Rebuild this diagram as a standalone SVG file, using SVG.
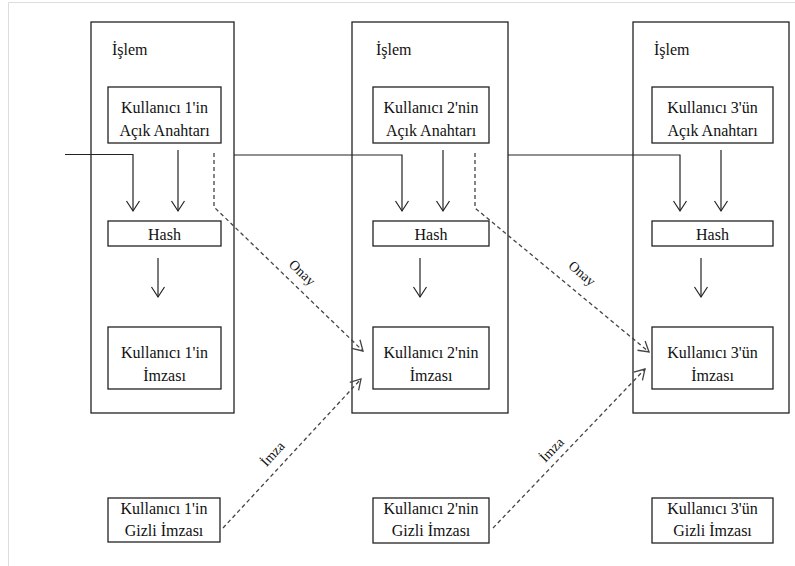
<svg xmlns="http://www.w3.org/2000/svg" width="795" height="566" viewBox="0 0 795 566" font-family="'Liberation Serif', 'Times New Roman', 'DejaVu Serif', serif">
<style>
text{font-family:'Liberation Serif','Times New Roman','DejaVu Serif',serif;font-size:16px;fill:#111}
.c{text-anchor:middle}
.box{fill:#fff;stroke:#222;stroke-width:1.3}
.outer{fill:none;stroke:#222;stroke-width:1.3}
.ln{fill:none;stroke:#222;stroke-width:1.2}
.dl{fill:none;stroke:#444;stroke-width:1.3;stroke-dasharray:4 3}
.lbl{font-size:14px;text-anchor:middle}
</style>
<defs>
<marker id="a" markerUnits="userSpaceOnUse" markerWidth="20" markerHeight="20" refX="0" refY="0" orient="auto" overflow="visible">
<path d="M-10,-6.5 L0,0 L-10,6.5" fill="none" stroke="#222" stroke-width="1.2"/>
</marker>
<marker id="ad" markerUnits="userSpaceOnUse" markerWidth="20" markerHeight="20" refX="0" refY="0" orient="auto" overflow="visible">
<path d="M-10,-6 L0,0 L-10,6" fill="none" stroke="#444" stroke-width="1.3"/>
</marker>
</defs>
<rect width="795" height="566" fill="#fff"/>
<path d="M8.5,566 V2.5 H795" fill="none" stroke="#ddd" stroke-width="1"/>

<g id="islem1">
<rect class="outer" x="91" y="22" width="143" height="391"/>
<text x="112" y="55">İşlem</text>
</g>
<g id="islem2">
<rect class="outer" x="352" y="22" width="156" height="391"/>
<text x="376" y="55">İşlem</text>
</g>
<g id="islem3">
<rect class="outer" x="633" y="22" width="156" height="391"/>
<text x="654" y="55">İşlem</text>
</g>

<g id="acik1">
<rect class="box" x="108" y="87" width="113" height="56"/>
<text class="c" x="164.5" y="113">Kullanıcı 1'in</text>
<text class="c" x="164.5" y="136">Açık Anahtarı</text>
</g>
<g id="acik2">
<rect class="box" x="373" y="87" width="116" height="56"/>
<text class="c" x="431" y="113">Kullanıcı 2'nin</text>
<text class="c" x="431" y="136">Açık Anahtarı</text>
</g>
<g id="acik3">
<rect class="box" x="652" y="87" width="121" height="56"/>
<text class="c" x="712.5" y="113">Kullanıcı 3'ün</text>
<text class="c" x="712.5" y="136">Açık Anahtarı</text>
</g>

<g id="hash1">
<rect class="box" x="108" y="221" width="113" height="25"/>
<text class="c" x="164.5" y="240">Hash</text>
</g>
<g id="hash2">
<rect class="box" x="373" y="221" width="116" height="25"/>
<text class="c" x="431" y="240">Hash</text>
</g>
<g id="hash3">
<rect class="box" x="652" y="221" width="121" height="25"/>
<text class="c" x="712.5" y="240">Hash</text>
</g>

<g id="imza1">
<rect class="box" x="108" y="327" width="113" height="62"/>
<text class="c" x="164.5" y="358">Kullanıcı 1'in</text>
<text class="c" x="164.5" y="381">İmzası</text>
</g>
<g id="imza2">
<rect class="box" x="373" y="327" width="116" height="62"/>
<text class="c" x="431" y="358">Kullanıcı 2'nin</text>
<text class="c" x="431" y="381">İmzası</text>
</g>
<g id="imza3">
<rect class="box" x="652" y="327" width="121" height="62"/>
<text class="c" x="712.5" y="358">Kullanıcı 3'ün</text>
<text class="c" x="712.5" y="381">İmzası</text>
</g>

<g id="gizli1">
<rect class="box" x="108" y="498" width="112" height="44"/>
<text class="c" x="164" y="514">Kullanıcı 1'in</text>
<text class="c" x="164" y="536">Gizli İmzası</text>
</g>
<g id="gizli2">
<rect class="box" x="373" y="498" width="116" height="45"/>
<text class="c" x="431" y="514">Kullanıcı 2'nin</text>
<text class="c" x="431" y="536">Gizli İmzası</text>
</g>
<g id="gizli3">
<rect class="box" x="652" y="498" width="121" height="45"/>
<text class="c" x="712.5" y="514">Kullanıcı 3'ün</text>
<text class="c" x="712.5" y="536">Gizli İmzası</text>
</g>

<g id="connectors">
<path class="ln" d="M65,154.5 H133 V211" marker-end="url(#a)"/>
<path class="ln" d="M178,150 V211" marker-end="url(#a)"/>
<path class="ln" d="M158,258 V297" marker-end="url(#a)"/>
<path class="ln" d="M234,155 H402 V211" marker-end="url(#a)"/>
<path class="ln" d="M443,150 V211" marker-end="url(#a)"/>
<path class="ln" d="M420,258 V297" marker-end="url(#a)"/>
<path class="ln" d="M508,155 H680 V211" marker-end="url(#a)"/>
<path class="ln" d="M721,150 V211" marker-end="url(#a)"/>
<path class="ln" d="M701,258 V297" marker-end="url(#a)"/>

<path class="dl" d="M214,153 V207 L363,351" marker-end="url(#ad)"/>
<path class="dl" d="M475,153 V208 L649,352" marker-end="url(#ad)"/>
<path class="dl" d="M223,528 L361,379" marker-end="url(#ad)"/>
<path class="dl" d="M493,528 L645,369" marker-end="url(#ad)"/>

<text class="lbl" transform="translate(299,276) rotate(44)">Onay</text>
<text class="lbl" transform="translate(579,277) rotate(40)">Onay</text>
<text class="lbl" transform="translate(276,457) rotate(-47)">İmza</text>
<text class="lbl" transform="translate(555,453) rotate(-46)">İmza</text>
</g>
</svg>
